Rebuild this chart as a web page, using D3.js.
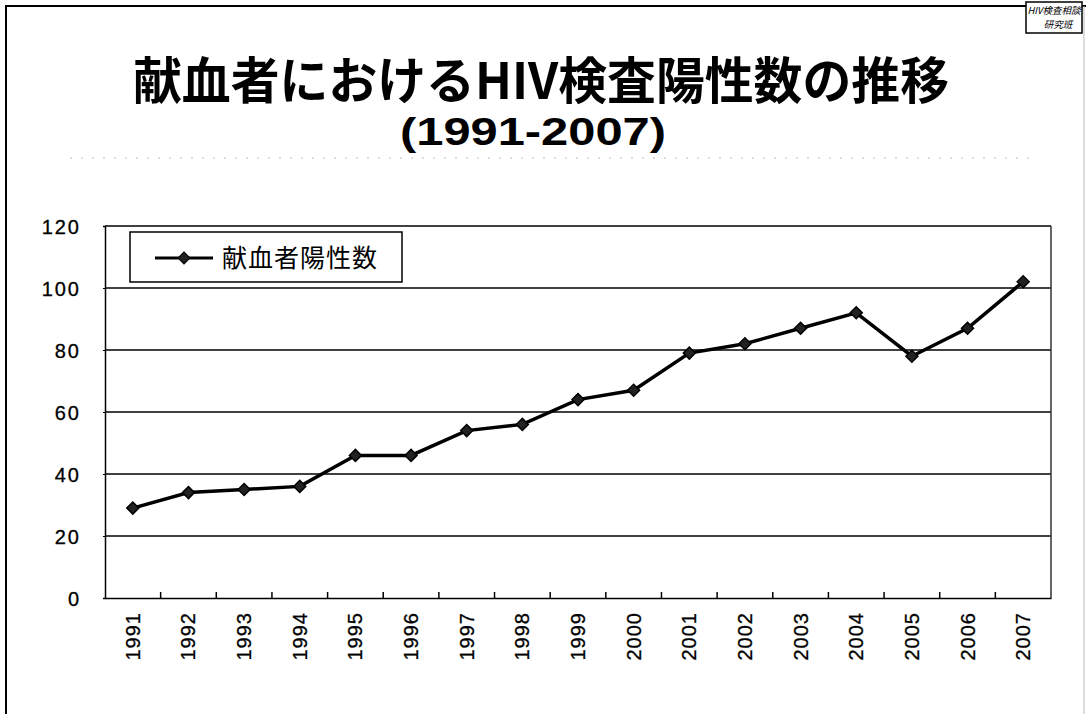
<!DOCTYPE html>
<html>
<head>
<meta charset="utf-8">
<script src="https://cdn.jsdelivr.net/npm/d3@7"></script>
<style>
  body { margin: 0; background: #fff; }
  svg { display: block; }
</style>
</head>
<body>
<script>
// data
const years = ["1991", "1992", "1993", "1994", "1995", "1996", "1997", "1998", "1999",
    "2000", "2001", "2002", "2003", "2004", "2005", "2006", "2007"];
const positives = [29, 34, 35, 36, 46, 46, 54, 56, 64, 67, 79, 82, 87, 92, 78, 87, 102];
const yTicks = [0, 20, 40, 60, 80, 100, 120];
const seriesName = "献血者陽性数";

const width = 1086;
const height = 720;

const svg = d3.select("body")
    .append("svg")
    .attr("width", width)
    .attr("height", height);

// page frame
svg.append("path")
    .attr("d", "M6,714 L6,6 L1086,6")
    .attr("fill", "none")
    .attr("stroke", "#000")
    .attr("stroke-width", 2);
svg.append("line")
    .attr("x1", 1084).attr("x2", 1084)
    .attr("y1", 6).attr("y2", 714)
    .attr("stroke", "#bbb")
    .attr("stroke-width", 1);

// stamp box top right
svg.append("rect")
    .attr("x", 1026).attr("y", 2)
    .attr("width", 56).attr("height", 31)
    .attr("fill", "#fff")
    .attr("stroke", "#000")
    .attr("stroke-width", 1.5);
svg.append("text")
    .attr("x", 1054).attr("y", 14)
    .attr("text-anchor", "middle")
    .attr("font-family", "'Noto Sans CJK JP', sans-serif")
    .attr("font-style", "italic")
    .attr("font-size", 9.5)
    .text("HIV検査相談");
svg.append("text")
    .attr("x", 1058).attr("y", 28)
    .attr("text-anchor", "middle")
    .attr("font-family", "'Noto Sans CJK JP', sans-serif")
    .attr("font-style", "italic")
    .attr("font-size", 9.5)
    .text("研究班");

// titles
svg.append("text")
    .attr("x", 541).attr("y", 99)
    .attr("text-anchor", "middle")
    .attr("font-family", "'Noto Sans CJK JP', sans-serif")
    .attr("font-weight", "bold")
    .attr("font-size", 50)
    .attr("textLength", 816)
    .attr("lengthAdjust", "spacingAndGlyphs")
    .text("献血者におけるHIV検査陽性数の推移");
svg.append("text")
    .attr("x", 533).attr("y", 145)
    .attr("text-anchor", "middle")
    .attr("font-family", "'Liberation Sans', Arial, sans-serif")
    .attr("font-weight", "bold")
    .attr("font-size", 38)
    .attr("textLength", 266)
    .attr("lengthAdjust", "spacingAndGlyphs")
    .text("(1991-2007)");

// faint separator under the title
svg.append("line")
    .attr("x1", 70).attr("x2", 1030)
    .attr("y1", 158).attr("y2", 158)
    .attr("stroke", "#bbb")
    .attr("stroke-width", 1)
    .attr("stroke-dasharray", "2,9");

// plot area
const margin = { top: 226, right: 35, bottom: 122, left: 105 };
const plotW = width - margin.left - margin.right;
const plotH = height - margin.top - margin.bottom;

const x = d3.scaleBand()
    .domain(years)
    .range([margin.left, margin.left + plotW]);

const y = d3.scaleLinear()
    .domain([0, 120])
    .range([margin.top + plotH, margin.top]);

// gridlines
svg.append("g")
    .selectAll("line")
    .data(yTicks.filter(d => d > 0))
    .join("line")
    .attr("x1", margin.left)
    .attr("x2", margin.left + plotW)
    .attr("y1", d => y(d))
    .attr("y2", d => y(d))
    .attr("stroke", "#000")
    .attr("stroke-width", 1.5);

// right border of plot
svg.append("line")
    .attr("x1", margin.left + plotW).attr("x2", margin.left + plotW)
    .attr("y1", margin.top).attr("y2", margin.top + plotH)
    .attr("stroke", "#333")
    .attr("stroke-width", 1.5);

// y axis
const yAxis = svg.append("g")
    .attr("transform", `translate(${margin.left},0)`)
    .call(d3.axisLeft(y).tickValues(yTicks).tickSize(2).tickPadding(22));
yAxis.select(".domain").attr("stroke", "#000").attr("stroke-width", 1.5);
yAxis.selectAll(".tick line").attr("stroke", "#000");
yAxis.selectAll("text")
    .attr("font-family", "'Liberation Sans', Arial, sans-serif")
    .attr("font-size", 20)
    .attr("letter-spacing", 2)
    .attr("stroke", "#000")
    .attr("stroke-width", 0.3)
    .attr("dy", "0.35em")
    .attr("fill", "#000");

// x axis
const xAxis = svg.append("g")
    .attr("transform", `translate(0,${margin.top + plotH})`)
    .call(d3.axisBottom(x).tickSize(0).tickPadding(0));
xAxis.select(".domain").attr("stroke", "#000").attr("stroke-width", 1.5);
xAxis.selectAll("text")
    .attr("font-family", "'Liberation Sans', Arial, sans-serif")
    .attr("font-size", 20)
    .attr("letter-spacing", 1)
    .attr("stroke", "#000")
    .attr("stroke-width", 0.3)
    .attr("fill", "#000")
    .attr("text-anchor", "end")
    .attr("transform", "translate(0,14) rotate(-90)")
    .attr("dx", 0)
    .attr("dy", "0.35em");

// inner tick marks at category boundaries
svg.append("g")
    .selectAll("line")
    .data(years.slice(1))
    .join("line")
    .attr("x1", d => x(d))
    .attr("x2", d => x(d))
    .attr("y1", margin.top + plotH)
    .attr("y2", margin.top + plotH - 6)
    .attr("stroke", "#000")
    .attr("stroke-width", 1.5);

// series line
const line = d3.line()
    .x((d, i) => x(years[i]) + x.bandwidth() / 2)
    .y(d => y(d));

svg.append("path")
    .datum(positives)
    .attr("d", line)
    .attr("fill", "none")
    .attr("stroke", "#000")
    .attr("stroke-width", 3.5);

// square markers turned 45 degrees
const marker = d3.symbol().type(d3.symbolSquare).size(72);
svg.append("g")
    .selectAll("path")
    .data(positives)
    .join("path")
    .attr("d", marker)
    .attr("transform", (d, i) => `translate(${x(years[i]) + x.bandwidth() / 2},${y(d)}) rotate(45)`)
    .attr("fill", "#222")
    .attr("stroke", "#000")
    .attr("stroke-width", 1.5);

// legend
const legend = svg.append("g").attr("transform", "translate(130,232)");
legend.append("rect")
    .attr("width", 272)
    .attr("height", 50)
    .attr("fill", "#fff")
    .attr("stroke", "#000")
    .attr("stroke-width", 1.5);
legend.append("line")
    .attr("x1", 25).attr("x2", 83)
    .attr("y1", 26).attr("y2", 26)
    .attr("stroke", "#000")
    .attr("stroke-width", 3);
legend.append("path")
    .attr("d", marker)
    .attr("transform", "translate(54,26) rotate(45)")
    .attr("fill", "#222")
    .attr("stroke", "#000");
legend.append("text")
    .attr("x", 92).attr("y", 35)
    .attr("font-family", "'Noto Sans CJK JP', sans-serif")
    .attr("font-size", 25)
    .attr("letter-spacing", 1)
    .text(seriesName);
</script>
</body>
</html>
